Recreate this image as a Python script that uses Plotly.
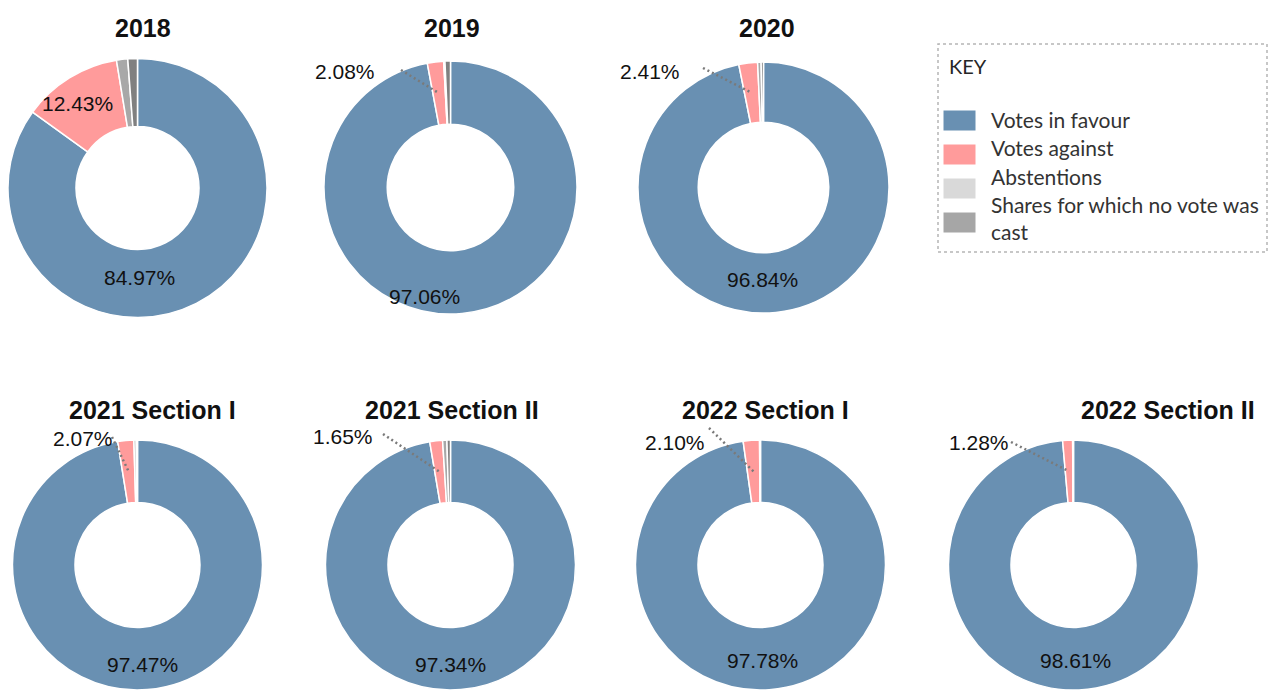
import math
import textwrap
import plotly.graph_objects as go

W, H = 1270, 690

# Data per vote (percent of shares)
periods = ["2018", "2019", "2020", "2021 Section I", "2021 Section II",
           "2022 Section I", "2022 Section II"]
favour = [84.97, 97.06, 96.84, 97.47, 97.34, 97.78, 98.61]
against = [12.43, 2.08, 2.41, 2.07, 1.65, 2.10, 1.28]
abstentions = [1.40, 0.16, 0.45, 0.30, 0.55, 0.08, 0.07]
no_vote = [1.20, 0.70, 0.30, 0.16, 0.46, 0.04, 0.04]

categories = ["Votes in favour", "Votes against", "Abstentions",
              "Shares for which no vote was cast"]
slice_colours = ["#6990b2", "#ff9b9b", "#a8a8a8", "#808080"]
key_colours = ["#6990b2", "#ff9b9b", "#d9d9d9", "#a6a6a6"]

# Where each donut sits on the page (pixels)
placement = [
    dict(cx=137.5, cy=188, r=129.5, hole=0.475, tx=143, ty=28, fav=(139, 277), ag=(77, 104), lead=None),
    dict(cx=450.5, cy=187.5, r=126.5, hole=0.5, tx=452, ty=28, fav=(424, 296), ag=(345, 72), lead=(401, 70)),
    dict(cx=763.5, cy=187.5, r=125.5, hole=0.52, tx=767, ty=28, fav=(762, 279), ag=(650, 71), lead=(703, 68)),
    dict(cx=137.5, cy=565, r=125, hole=0.5, tx=152, ty=410, fav=(142, 664), ag=(83, 438), lead=(112, 437)),
    dict(cx=450.5, cy=565, r=125, hole=0.5, tx=452, ty=410, fav=(450, 664), ag=(343, 436), lead=(383, 434)),
    dict(cx=760.5, cy=565, r=125, hole=0.5, tx=766, ty=410, fav=(762, 660), ag=(675, 442), lead=(709, 428)),
    dict(cx=1073.5, cy=565, r=125, hole=0.5, tx=1168, ty=410, fav=(1075, 660), ag=(979, 442), lead=(1011, 442)),
]


def px(x):
    return x / W


def py(y):
    return 1 - y / H


fig = go.Figure()
annotations = []
shapes = []

for i, name in enumerate(periods):
    p = placement[i]
    values = [favour[i], against[i], abstentions[i], no_vote[i]]
    fig.add_trace(go.Pie(
        labels=categories,
        values=values,
        name=name,
        sort=False,
        direction="clockwise",
        rotation=0,
        hole=p["hole"],
        textinfo="none",
        hovertemplate="%{label}: %{value:.2f}%<extra>" + name + "</extra>",
        marker=dict(colors=slice_colours, line=dict(color="white", width=1.5)),
        domain=dict(x=[px(p["cx"] - p["r"]), px(p["cx"] + p["r"])],
                    y=[max(0, py(p["cy"] + p["r"])), py(p["cy"] - p["r"])]),
        showlegend=False,
    ))

    # title
    annotations.append(dict(text="<b>" + name + "</b>", x=px(p["tx"]), y=py(p["ty"]),
                            xref="paper", yref="paper", xanchor="center", yanchor="middle",
                            showarrow=False,
                            font=dict(family="Arial, Liberation Sans", size=25, color="#111111")))
    # percentage labels
    for val, pos in ((favour[i], p["fav"]), (against[i], p["ag"])):
        annotations.append(dict(text=f"{val:.2f}%", x=px(pos[0]), y=py(pos[1]),
                                xref="paper", yref="paper", xanchor="center", yanchor="middle",
                                showarrow=False,
                                font=dict(family="Arial, Liberation Sans", size=21, color="#111111")))
    # dotted leader to the "against" slice
    if p["lead"] is not None:
        a = 2 * math.pi * (favour[i] + against[i] / 2) / 100
        rm = p["r"] * (1 + p["hole"]) / 2
        ex = p["cx"] + rm * math.sin(a)
        ey = p["cy"] - rm * math.cos(a)
        sx, sy = p["lead"]
        shapes.append(dict(type="line", xref="paper", yref="paper",
                           x0=px(sx), y0=py(sy), x1=px(ex), y1=py(ey),
                           line=dict(color="#7a7a7a", width=2.5, dash="2px,3px")))

# key box
shapes.append(dict(type="rect", xref="paper", yref="paper",
                   x0=px(938), y0=py(252), x1=px(1267), y1=py(44),
                   line=dict(color="#b5b5b5", width=1.5, dash="dot"),
                   fillcolor="rgba(0,0,0,0)"))
annotations.append(dict(text="KEY", x=px(947), y=py(66), xref="paper", yref="paper",
                        xanchor="left", yanchor="middle", showarrow=False,
                        font=dict(family="Lato", size=20, color="#262626")))
for k, cat in enumerate(categories):
    top = 110 + k * 34
    shapes.append(dict(type="rect", xref="paper", yref="paper",
                       x0=px(943), x1=px(976), y0=py(top + 21), y1=py(top),
                       fillcolor=key_colours[k], line=dict(color="white", width=1)))
    annotations.append(dict(text="<br>".join(textwrap.wrap(cat, 28)),
                            x=px(989), y=py(105 + k * 28.3), xref="paper", yref="paper",
                            xanchor="left", yanchor="top", align="left", showarrow=False,
                            font=dict(family="Lato", size=21, color="#333333")))

fig.update_layout(
    width=W, height=H,
    margin=dict(l=0, r=0, t=0, b=0),
    paper_bgcolor="white",
    plot_bgcolor="white",
    annotations=annotations,
    shapes=shapes,
)

fig.write_html("out.html", config={"displayModeBar": False},
               post_script="document.body.style.margin='0';")
